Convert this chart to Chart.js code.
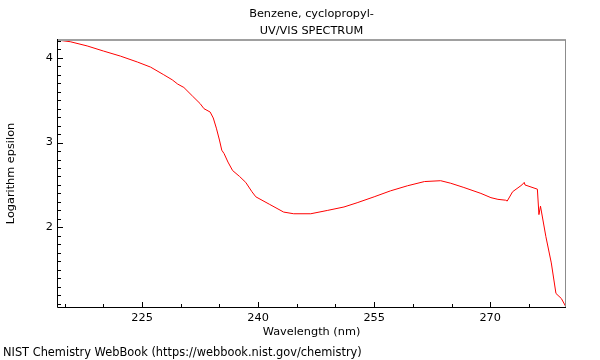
<!DOCTYPE html>
<html>
<head>
<meta charset="utf-8">
<style>
html,body{margin:0;padding:0;background:#ffffff;}
#wrap{width:600px;height:360px;}
canvas{display:block;}
</style>
<script src="https://cdn.jsdelivr.net/npm/chart.js@4/dist/chart.umd.min.js"></script>
</head>
<body>
<div id="wrap"><canvas id="c" width="600" height="360"></canvas></div>
<script>
// ---- data ----
const wavelengths = [
  214.0, 215.7, 217.9, 220.0, 222.2, 224.4, 226.1, 227.8, 228.9, 229.6,
  230.4, 231.5, 232.5, 233.0, 233.8, 234.2, 234.6, 235.0, 235.3, 235.6,
  236.1, 236.7, 237.6, 238.4, 239.2, 239.7, 241.5, 243.3, 244.6, 246.8,
  249.0, 251.1, 252.8, 255.0, 257.1, 259.3, 261.5, 263.6, 264.9, 266.6,
  268.8, 270.1, 271.0, 272.0, 272.2, 272.9, 274.1, 274.4, 274.5, 276.1,
  276.3, 276.5, 277.2, 277.9, 278.5, 279.2, 279.8
];
const logEpsilon = [
  4.21, 4.19, 4.14, 4.08, 4.02, 3.95, 3.89, 3.80, 3.74, 3.69,
  3.65, 3.55, 3.46, 3.40, 3.36, 3.29, 3.17, 3.03, 2.91, 2.87,
  2.77, 2.67, 2.60, 2.53, 2.42, 2.36, 2.27, 2.18, 2.16, 2.16,
  2.20, 2.24, 2.29, 2.36, 2.43, 2.49, 2.54, 2.55, 2.52, 2.47,
  2.40, 2.35, 2.33, 2.32, 2.31, 2.42, 2.50, 2.53, 2.50, 2.45,
  2.15, 2.25, 1.89, 1.58, 1.22, 1.16, 1.06
];
const xTickValues = [225, 240, 255, 270];
const yTickValues = [2, 3, 4];
const titleLines = ['Benzene, cyclopropyl-', 'UV/VIS SPECTRUM'];
const xAxisTitle = 'Wavelength (nm)';
const yAxisTitle = 'Logarithm epsilon';
const footerText = 'NIST Chemistry WebBook (https://webbook.nist.gov/chemistry)';
const xRange = [214.0, 279.8];
const yRange = [1.06, 4.21];

// ---- styling ----
const FONT = {family: "'DejaVu Sans', sans-serif", size: 11.3, weight: 'normal'};

const framePlugin = {
  id: 'frameAndTicks',
  afterDatasetsDraw(chart) {
    const {ctx, chartArea: a, scales} = chart;
    const xs = scales.x, ys = scales.y;
    const L = Math.round(a.left), R = Math.round(a.right);
    const T = Math.round(a.top), B = Math.round(a.bottom);
    ctx.save();
    // top border (gray, thicker)
    ctx.strokeStyle = '#a0a0a0';
    ctx.lineWidth = 2;
    ctx.beginPath(); ctx.moveTo(L, T); ctx.lineTo(R, T); ctx.stroke();
    // right border
    ctx.strokeStyle = '#8c8c8c';
    ctx.lineWidth = 1;
    ctx.beginPath(); ctx.moveTo(R - 0.5, T); ctx.lineTo(R - 0.5, B + 1); ctx.stroke();
    // left & bottom axes
    ctx.strokeStyle = '#000000';
    ctx.beginPath();
    ctx.moveTo(L + 0.5, T - 1); ctx.lineTo(L + 0.5, B + 0.5);
    ctx.lineTo(R, B + 0.5);
    ctx.stroke();
    // ticks (inward)
    ctx.beginPath();
    for (let k = 43; k <= 55; k++) {
      const v = k * 5;
      if (v < xs.min || v > xs.max) continue;
      const px = Math.round(xs.getPixelForValue(v)) + 0.5;
      const len = (v % 15 === 0) ? 5 : 3;
      ctx.moveTo(px, B); ctx.lineTo(px, B - len);
    }
    for (let k = 11; k <= 42; k++) {
      const v = k / 10;
      if (v < ys.min || v > ys.max) continue;
      const py = Math.round(ys.getPixelForValue(v)) + 0.5;
      const len = (k % 10 === 0) ? 5 : 3;
      ctx.moveTo(L + 1, py); ctx.lineTo(L + 1 + len, py);
    }
    ctx.stroke();
    ctx.restore();
  },
  afterDraw(chart) {
    const ctx = chart.ctx;
    ctx.save();
    ctx.fillStyle = '#000000';
    ctx.font = '11.4px ' + FONT.family;
    ctx.textAlign = 'left';
    ctx.textBaseline = 'middle';
    ctx.fillText(footerText, 3, 353);
    ctx.restore();
  }
};

const points = wavelengths.map((w, i) => ({x: w, y: logEpsilon[i]}));

new Chart(document.getElementById('c').getContext('2d'), {
  type: 'scatter',
  data: {
    datasets: [{
      data: points,
      showLine: true,
      borderColor: '#ff0000',
      backgroundColor: '#ff0000',
      borderWidth: 1,
      pointRadius: 0,
      tension: 0,
      fill: false
    }]
  },
  options: {
    responsive: false,
    animation: false,
    devicePixelRatio: 1,
    layout: {padding: {left: 0, right: 34, top: 0, bottom: 0}},
    plugins: {
      legend: {display: false},
      tooltip: {enabled: false},
      title: {
        display: true,
        text: titleLines,
        fullSize: false,
        color: '#000000',
        font: Object.assign({}, FONT, {lineHeight: '17.5px'}),
        padding: {top: 5, bottom: 0}
      }
    },
    scales: {
      x: {
        type: 'linear',
        min: xRange[0],
        max: xRange[1],
        afterBuildTicks: s => { s.ticks = xTickValues.map(v => ({value: v})); },
        afterFit: s => { s.height = 53; },
        grid: {display: false, drawTicks: false},
        border: {display: false},
        ticks: {color: '#000000', font: FONT, padding: 4, maxRotation: 0, autoSkip: false},
        title: {display: true, text: xAxisTitle, color: '#000000', font: FONT, padding: {top: 0, bottom: 21}}
      },
      y: {
        type: 'linear',
        min: yRange[0],
        max: yRange[1],
        afterBuildTicks: s => { s.ticks = yTickValues.map(v => ({value: v})); },
        afterFit: s => { s.width = 57; },
        grid: {display: false, drawTicks: false},
        border: {display: false},
        ticks: {color: '#000000', font: FONT, padding: 4, autoSkip: false},
        title: {display: true, text: yAxisTitle, color: '#000000', font: FONT, padding: {top: 4, bottom: 0}}
      }
    }
  },
  plugins: [framePlugin]
});
</script>
</body>
</html>
